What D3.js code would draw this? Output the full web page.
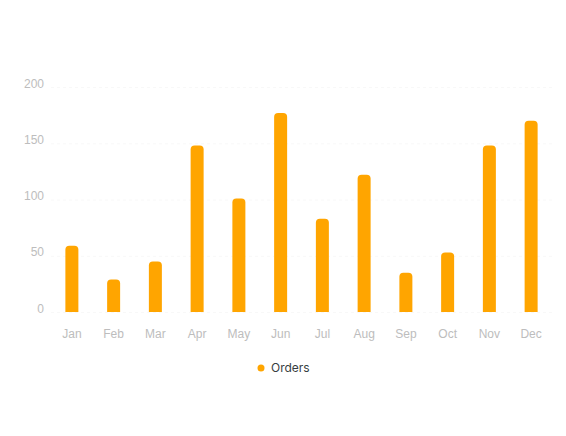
<!DOCTYPE html>
<meta charset="utf-8">
<style>
body { margin: 0; background: #fff; font-family: Inter, "Noto Sans", sans-serif; }
.axis text { fill: #bdbdbd; font-size: 12px; font-weight: 300; }
.legend text { fill: #373d3f; font-size: 12px; }
</style>
<body>
<script src="https://d3js.org/d3.v7.min.js"></script>
<script>
var months = ['Jan','Feb','Mar','Apr','May','Jun','Jul','Aug','Sep','Oct','Nov','Dec'];
var orders = [59, 29, 45, 148, 101, 177, 83, 122, 35, 53, 148, 170];
var yTicks = [0, 50, 100, 150, 200];
var seriesName = 'Orders';

var W = 566, H = 436;
var margin = {top: 87, right: 14, bottom: 124, left: 51};
var width = W - margin.left - margin.right,
    height = H - margin.top - margin.bottom;

var svg = d3.select('body').append('svg')
    .attr('width', W)
    .attr('height', H);

var g = svg.append('g')
    .attr('transform', 'translate(' + margin.left + ',' + margin.top + ')');

var x = d3.scaleBand().domain(months).range([0, width]);
var y = d3.scaleLinear().domain([0, 200]).range([height, 0]);

// very faint dashed grid
g.selectAll('.grid')
    .data(yTicks)
  .enter().append('line')
    .attr('x1', 0).attr('x2', width)
    .attr('y1', function(d) { return y(d) + 0.5; })
    .attr('y2', function(d) { return y(d) + 0.5; })
    .attr('stroke', '#f8f8f8')
    .attr('stroke-dasharray', '3,3');

var yAxis = g.append('g')
    .attr('class', 'axis')
    .call(d3.axisLeft(y).tickValues(yTicks).tickSize(0).tickPadding(7));
yAxis.select('.domain').remove();
yAxis.selectAll('text').attr('dy', '0.0em');

var xAxis = g.append('g')
    .attr('class', 'axis')
    .attr('transform', 'translate(0,' + height + ')')
    .call(d3.axisBottom(x).tickSize(0).tickPadding(17));
xAxis.select('.domain').remove();

var bw = 13, r = 4;
function barPath(d, i) {
  var cx = x(months[i]) + x.bandwidth() / 2;
  var x0 = cx - bw / 2, x1 = cx + bw / 2;
  var y0 = y(0), y1 = y(d);
  return 'M' + x0 + ',' + y0 +
    'V' + (y1 + r) +
    'Q' + x0 + ',' + y1 + ' ' + (x0 + r) + ',' + y1 +
    'H' + (x1 - r) +
    'Q' + x1 + ',' + y1 + ' ' + x1 + ',' + (y1 + r) +
    'V' + y0 + 'Z';
}

g.selectAll('.bar')
    .data(orders)
  .enter().append('path')
    .attr('class', 'bar')
    .attr('d', barPath)
    .attr('fill', '#ffa500');

var legend = svg.append('g')
    .attr('class', 'legend')
    .attr('transform', 'translate(261,368)');
legend.append('circle').attr('r', 3.5).attr('fill', '#ffa500');
legend.append('text').attr('x', 10).attr('dy', '0.35em').text(seriesName);
</script>
</body>
